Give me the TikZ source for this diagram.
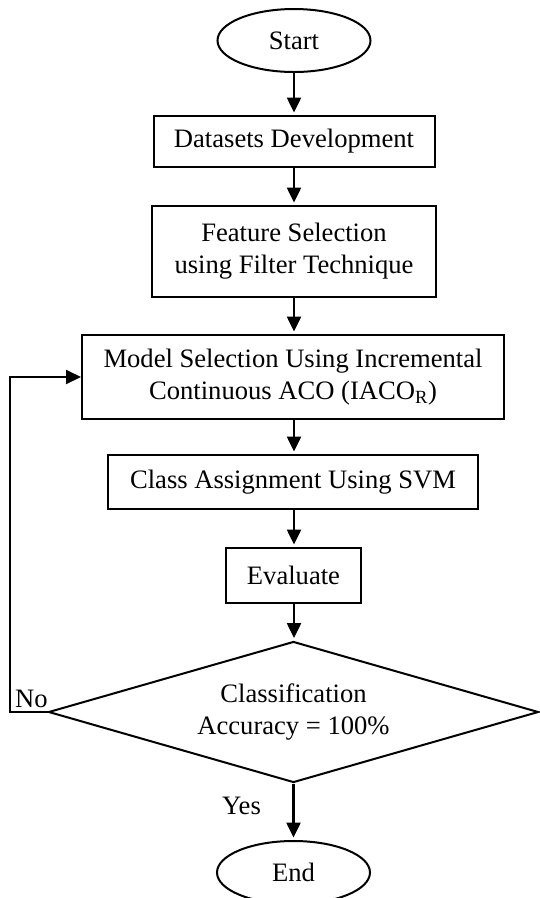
\documentclass[tikz,border=0pt]{standalone}
\usepackage{fontspec}
\setmainfont{Liberation Serif}
\usetikzlibrary{shapes.geometric,arrows.meta}
\tikzset{
  every node/.style={font=\fontsize{26.6}{32}\selectfont},
  procbox/.style={draw, line width=2pt, rectangle, inner sep=0pt, align=center},
  termnode/.style={draw, line width=2pt, ellipse, inner sep=0pt, minimum width=153pt, minimum height=63pt},
  decnode/.style={draw, line width=2pt, diamond, aspect=3.47, inner sep=0pt, minimum width=490pt, minimum height=141pt, align=center},
  flow/.style={line width=2.5pt, -{Triangle[length=15pt,width=14pt]}, shorten >=2.5pt},
  lbl/.style={inner sep=0pt}
}
\begin{document}
\begin{tikzpicture}[x=1pt,y=-1pt]
\useasboundingbox (0,0) rectangle (539,898);
\node[termnode] (start) at (294,40.5) {Start};
\node[procbox, minimum width=281pt, minimum height=51pt] (ds) at (294,141.5) {Datasets Development};
\node[procbox, minimum width=284pt, minimum height=91pt] (fs) at (294,251.5) {Feature Selection\\using Filter Technique};
\node[procbox, minimum width=422pt, minimum height=84pt] (ms) at (293,377) {Model Selection Using Incremental\\Continuous ACO (IACO\textsubscript{R})};
\node[procbox, minimum width=370pt, minimum height=54pt] (ca) at (293,482) {Class Assignment Using SVM};
\node[procbox, minimum width=135pt, minimum height=55pt] (ev) at (293.5,575.5) {Evaluate};
\node[decnode] (dec) at (293.5,712) {Classification\\Accuracy = 100\%};
\node[termnode] (end) at (293.5,872.5) {End};
\node[lbl] (no) at (31.5,699) {No};
\node[lbl] (yes) at (241.5,806) {Yes};
\coordinate (loop) at (10,712);
\draw[flow] (start.south) -- (start.south |- ds.north);
\draw[flow] (ds.south -| start.south) -- (start.south |- fs.north);
\draw[flow] (fs.south -| start.south) -- (start.south |- ms.north);
\draw[flow] (ms.south -| start.south) -- (start.south |- ca.north);
\draw[flow] (ca.south -| start.south) -- (start.south |- ev.north);
\draw[flow] (ev.south -| start.south) -- (start.south |- dec.north);
\draw[flow] (dec.south) -- (end.north);
\draw[line width=2pt, -{Triangle[length=15pt,width=14pt]}] (dec.west) -- (loop) |- (ms.west);
\end{tikzpicture}
\end{document}
